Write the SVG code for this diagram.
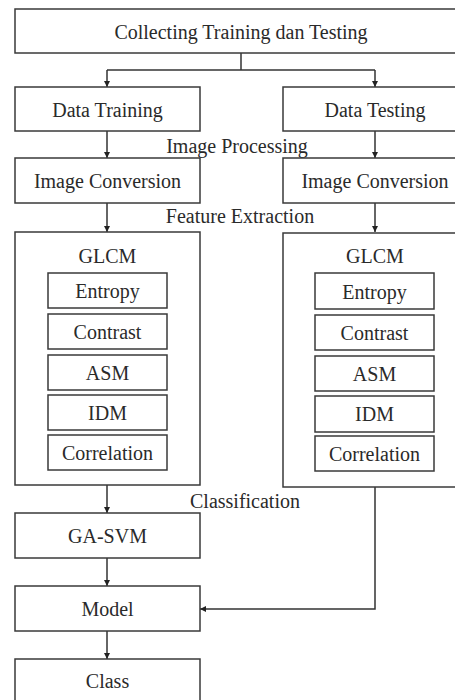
<svg xmlns="http://www.w3.org/2000/svg" width="455" height="700" viewBox="0 0 455 700">
<style>
.box{fill:#fff;stroke:#3a3a3a;stroke-width:1.5}
.t{font-family:"Liberation Serif","Times New Roman",serif;font-size:20px;fill:#2a2a2a;text-anchor:middle}
.c{fill:none;stroke:#333;stroke-width:1.5}
</style>
<defs>
<marker id="ah" markerUnits="userSpaceOnUse" markerWidth="7" markerHeight="7" refX="6" refY="3" orient="auto">
<path d="M0,0 L6,3 L0,6 z" fill="#222"/>
</marker>
</defs>
<rect width="455" height="700" fill="#fff"/>
<g id="connectors">
<path class="c" d="M241,53 V70"/>
<path class="c" d="M107,70 H375"/>
<path class="c" d="M107,70 V87" marker-end="url(#ah)"/>
<path class="c" d="M375,70 V87" marker-end="url(#ah)"/>
<path class="c" d="M107,131 V158" marker-end="url(#ah)"/>
<path class="c" d="M375,131 V158" marker-end="url(#ah)"/>
<path class="c" d="M107,203 V232" marker-end="url(#ah)"/>
<path class="c" d="M375,203 V232" marker-end="url(#ah)"/>
<path class="c" d="M107,485 V513" marker-end="url(#ah)"/>
<path class="c" d="M107,558 V586" marker-end="url(#ah)"/>
<path class="c" d="M375,487 V609 H200" marker-end="url(#ah)"/>
<path class="c" d="M107,631 V659" marker-end="url(#ah)"/>
</g>
<g id="labels">
<text class="t" x="237" y="153">Image Processing</text>
<text class="t" x="240" y="223">Feature Extraction</text>
<text class="t" x="245" y="508">Classification</text>
</g>
<g id="collecting"><rect class="box" x="15" y="9" width="455" height="44"/><text class="t" x="241" y="39">Collecting Training dan Testing</text></g>
<g id="data-training"><rect class="box" x="15" y="87" width="185" height="44"/><text class="t" x="107.5" y="117">Data Training</text></g>
<g id="data-testing"><rect class="box" x="283" y="87" width="185" height="44"/><text class="t" x="375" y="117">Data Testing</text></g>
<g id="conv-left"><rect class="box" x="15" y="158" width="185" height="45"/><text class="t" x="107.5" y="188">Image Conversion</text></g>
<g id="conv-right"><rect class="box" x="283" y="158" width="185" height="45"/><text class="t" x="375" y="188">Image Conversion</text></g>
<g id="glcm-left">
<rect class="box" x="15" y="232" width="185" height="253"/>
<text class="t" x="107.5" y="263">GLCM</text>
<rect class="box" x="48" y="273" width="119" height="35"/><text class="t" x="107.5" y="298">Entropy</text>
<rect class="box" x="48" y="314" width="119" height="35"/><text class="t" x="107.5" y="339">Contrast</text>
<rect class="box" x="48" y="355" width="119" height="35"/><text class="t" x="107.5" y="380">ASM</text>
<rect class="box" x="48" y="395" width="119" height="35"/><text class="t" x="107.5" y="420">IDM</text>
<rect class="box" x="48" y="435" width="119" height="35"/><text class="t" x="107.5" y="460">Correlation</text>
</g>
<g id="glcm-right">
<rect class="box" x="283" y="233" width="185" height="254"/>
<text class="t" x="375" y="263">GLCM</text>
<rect class="box" x="315" y="273" width="119" height="36"/><text class="t" x="374.5" y="299">Entropy</text>
<rect class="box" x="315" y="315" width="119" height="35"/><text class="t" x="374.5" y="340">Contrast</text>
<rect class="box" x="315" y="356" width="119" height="35"/><text class="t" x="374.5" y="381">ASM</text>
<rect class="box" x="315" y="396" width="119" height="36"/><text class="t" x="374.5" y="421">IDM</text>
<rect class="box" x="315" y="436" width="119" height="35"/><text class="t" x="374.5" y="461">Correlation</text>
</g>
<g id="ga-svm"><rect class="box" x="15" y="513" width="185" height="45"/><text class="t" x="107.5" y="543">GA-SVM</text></g>
<g id="model"><rect class="box" x="15" y="586" width="185" height="45"/><text class="t" x="107.5" y="616">Model</text></g>
<g id="class"><rect class="box" x="15" y="659" width="185" height="60"/><text class="t" x="107.5" y="688">Class</text></g>
</svg>
